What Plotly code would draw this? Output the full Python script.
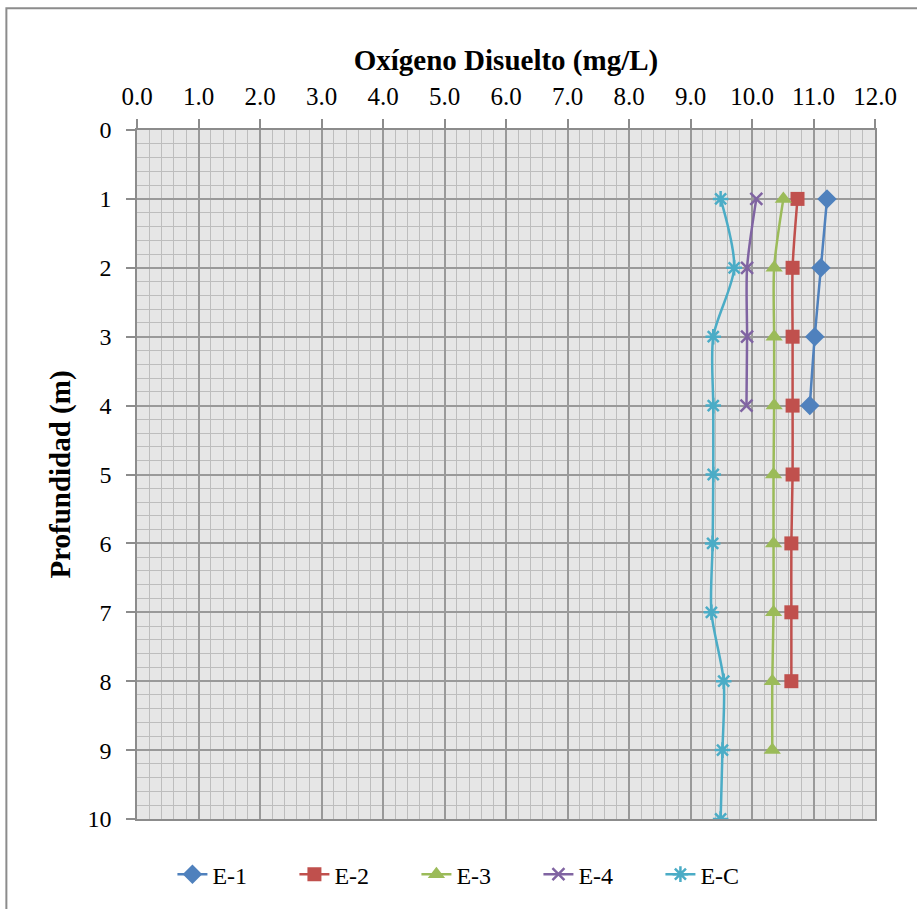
import plotly.graph_objects as go

depth_e1 = [1, 2, 3, 4]
od_e1 = [11.22, 11.12, 11.02, 10.94]
depth_e2 = [1, 2, 3, 4, 5, 6, 7, 8]
od_e2 = [10.74, 10.66, 10.66, 10.66, 10.66, 10.64, 10.64, 10.64]
depth_e3 = [1, 2, 3, 4, 5, 6, 7, 8, 9]
od_e3 = [10.51, 10.36, 10.36, 10.36, 10.35, 10.35, 10.35, 10.33, 10.33]
depth_e4 = [1, 2, 3, 4]
od_e4 = [10.07, 9.92, 9.92, 9.91]
depth_ec = [1, 2, 3, 4, 5, 6, 7, 8, 9, 10]
od_ec = [9.49, 9.71, 9.37, 9.37, 9.37, 9.36, 9.34, 9.54, 9.52, 9.49]

x_ticks = [0, 1, 2, 3, 4, 5, 6, 7, 8, 9, 10, 11, 12]
x_labels = ["0.0", "1.0", "2.0", "3.0", "4.0", "5.0", "6.0", "7.0", "8.0", "9.0", "10.0", "11.0", "12.0"]
y_ticks = list(range(0, 11))

FONT = "Liberation Serif"

series = [
    ("E-1", od_e1, depth_e1, "#4F81BD", dict(symbol="diamond", size=15)),
    ("E-2", od_e2, depth_e2, "#C0504D", dict(symbol="square", size=14)),
    ("E-3", od_e3, depth_e3, "#9BBB59", dict(symbol="triangle-up", size=15)),
    ("E-4", od_e4, depth_e4, "#8064A2", dict(symbol="x-thin", size=12, line=dict(width=2.5, color="#8064A2"))),
    ("E-C", od_ec, depth_ec, "#4BACC6", dict(symbol="asterisk", size=13, line=dict(width=2.5, color="#4BACC6"))),
]

fig = go.Figure()
for name, x, y, color, mk in series:
    mk = dict(mk)
    mk["color"] = color
    fig.add_trace(go.Scatter(x=x, y=y, name=name, mode="lines+markers",
                             line=dict(color=color, width=2.5, shape="spline", smoothing=0.8),
                             marker=mk))

fig.update_layout(
    width=917, height=909,
    margin=dict(l=137, r=42, t=130, b=87),
    paper_bgcolor="white",
    plot_bgcolor="#E6E6E6",
    font=dict(family=FONT, size=25, color="black"),
    showlegend=True,
    legend=dict(orientation="h", x=0.048, xanchor="left", y=-0.048, yanchor="top",
                font=dict(size=24), entrywidth=77, entrywidthmode="pixels", tracegroupgap=0),
    xaxis=dict(side="top", range=[0, 12], tickvals=x_ticks, ticktext=x_labels,
               showgrid=True, gridcolor="#999999", gridwidth=1.5,
               minor=dict(dtick=0.2, showgrid=True, gridcolor="#BDBDBD", gridwidth=1),
               ticks="outside", ticklen=9, tickcolor="#8C8C8C", tickwidth=1.5,
               ticklabelstandoff=4,
               showline=True, linecolor="#8C8C8C", linewidth=1.5, mirror=True,
               zeroline=False,
               title=dict(text="<b>Oxígeno Disuelto (mg/L)</b>", font=dict(size=29), standoff=4),
               tickfont=dict(size=25)),
    yaxis=dict(range=[10, 0], tickvals=y_ticks,
               showgrid=True, gridcolor="#999999", gridwidth=1.5,
               minor=dict(dtick=0.2, showgrid=True, gridcolor="#BDBDBD", gridwidth=1),
               ticks="outside", ticklen=9, tickcolor="#8C8C8C", tickwidth=1.5,
               ticklabelstandoff=10,
               showline=True, linecolor="#8C8C8C", linewidth=1.5, mirror=True,
               zeroline=False,
               title=dict(text="<b>Profundidad (m)</b>", font=dict(size=29), standoff=8),
               tickfont=dict(size=24)),
    shapes=[dict(type="rect", xref="paper", yref="paper",
                 x0=-0.177, x1=1.08, y0=-0.15, y1=1.1766,
                 line=dict(color="#8C8C8C", width=2), fillcolor="rgba(0,0,0,0)", layer="below")],
)

fig.write_html("out.html")
